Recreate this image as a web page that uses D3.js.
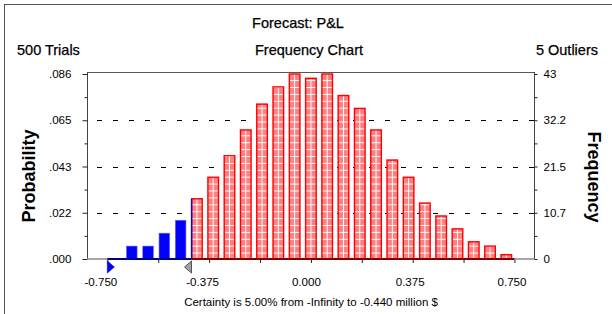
<!DOCTYPE html>
<html>
<head>
<meta charset="utf-8">
<script src="https://cdn.jsdelivr.net/npm/d3@7"></script>
<style>
	body { margin: 0; background: #fff; }
	text { font-family: 'Liberation Sans', Arial, sans-serif; fill: #000; }
	.head { font-size: 14.5px; stroke: #000; stroke-width: 0.25px; }
</style>
</head>
<body>
<div id="chart"></div>
<script>
// bin midpoints (million $) and trial counts per bin
const binMids = [-0.72, -0.66, -0.60, -0.54, -0.48, -0.42, -0.36, -0.30, -0.24, -0.18, -0.12, -0.06, 0.00,
	0.06, 0.12, 0.18, 0.24, 0.30, 0.36, 0.42, 0.48, 0.54, 0.60, 0.66, 0.72];
const counts = [0, 3, 3, 6, 9, 14, 19, 24, 30, 36, 40, 43, 42, 43, 38, 35, 30, 23, 19, 13, 10, 7, 4, 3, 1];
const binWidth = 0.06;

const freqTicks = [0, 10.75, 21.5, 32.25, 43];
const freqLabels = ['0', '10.7', '21.5', '32.2', '43'];
const probLabels = ['.000', '.022', '.043', '.065', '.086'];
const xTicks = [-0.75, -0.5625, -0.375, -0.1875, 0, 0.1875, 0.375, 0.5625, 0.75];
const xLabels = ['-0.750', '', '-0.375', '', '0.000', '', '0.375', '', '0.750'];

const certLow = -0.75;
const certHigh = -0.44;

const w = 612;
const h = 314;
const plotL = 87, plotR = 534, plotT = 72, plotB = 259;

const svg = d3.select('#chart').append('svg')
	.attr('width', w)
	.attr('height', h);

// outer frame
svg.append('rect')
	.attr('x', 4.5).attr('y', 4.5)
	.attr('width', 700).attr('height', 400)
	.attr('fill', 'none')
	.attr('stroke', '#555')
	.attr('stroke-width', 1);

const x = d3.scaleLinear().domain([-0.825, 0.822]).range([plotL, plotR]);
const y = d3.scaleLinear().domain([0, 43]).range([plotB, 74]);

const step = x(binWidth) - x(0);
const barW = step * 0.65;

// grid pattern for the red bars
const defs = svg.append('defs');
const pat = defs.append('pattern')
	.attr('id', 'grid')
	.attr('patternUnits', 'userSpaceOnUse')
	.attr('x', x(binMids[0]) - step / 2)
	.attr('y', plotB + 0.5)
	.attr('width', step)
	.attr('height', 6.9);
pat.append('rect')
	.attr('width', step).attr('height', 6.9)
	.attr('fill', '#ff8080');
pat.append('line')
	.attr('x1', step / 2).attr('x2', step / 2)
	.attr('y1', 0).attr('y2', 6.9)
	.attr('stroke', '#fff').attr('stroke-width', 1);
pat.append('line')
	.attr('x1', 0).attr('x2', step)
	.attr('y1', 0.5).attr('y2', 0.5)
	.attr('stroke', '#fff').attr('stroke-width', 1);

// dashed grid
svg.append('g')
	.selectAll('line')
	.data(freqTicks.slice(1, 4))
	.join('line')
	.attr('x1', plotL + 10).attr('x2', plotR)
	.attr('y1', d => Math.round(y(d)) + 0.5).attr('y2', d => Math.round(y(d)) + 0.5)
	.attr('stroke', '#000')
	.attr('stroke-width', 1)
	.attr('stroke-dasharray', '5,11');

// bars
const bins = binMids.map((m, i) => ({ mid: m, n: counts[i] })).filter(d => d.n > 0);
const isBlue = d => d.mid + binWidth / 2 <= certHigh;

svg.append('g')
	.selectAll('rect')
	.data(bins)
	.join('rect')
	.attr('x', d => x(d.mid) - barW / 2)
	.attr('y', d => y(d.n))
	.attr('width', barW)
	.attr('height', d => y(0) - y(d.n))
	.attr('fill', d => isBlue(d) ? '#0000ff' : 'url(#grid)')
	.attr('stroke', d => isBlue(d) ? '#6060ff' : '#ff0000')
	.attr('stroke-width', d => isBlue(d) ? 0.6 : 1.4);

// blue edge on the bin split by the certainty bound
const split = bins.filter(d => d.mid - binWidth / 2 < certHigh && d.mid + binWidth / 2 > certHigh);
svg.append('g')
	.selectAll('line')
	.data(split)
	.join('line')
	.attr('x1', d => x(d.mid) - barW / 2).attr('x2', d => x(d.mid) - barW / 2)
	.attr('y1', d => y(d.n)).attr('y2', plotB)
	.attr('stroke', '#0000ff')
	.attr('stroke-width', 1.4);

// plot frame
svg.append('line')
	.attr('x1', plotL).attr('x2', plotR)
	.attr('y1', plotT + 0.5).attr('y2', plotT + 0.5)
	.attr('stroke', '#555');
svg.append('line')
	.attr('x1', plotL + 0.5).attr('x2', plotL + 0.5)
	.attr('y1', plotT).attr('y2', plotB)
	.attr('stroke', '#444');
svg.append('line')
	.attr('x1', plotR + 0.5).attr('x2', plotR + 0.5)
	.attr('y1', plotT).attr('y2', plotB)
	.attr('stroke', '#444');

// left axis (probability)
const minor = freqTicks.slice(1).map((d, i) => (d + freqTicks[i]) / 2);
const yLeft = svg.append('g')
	.attr('transform', `translate(${plotL + 0.5},0)`)
	.call(d3.axisLeft(y).tickValues(freqTicks).tickSize(5).tickPadding(11)
		.tickFormat((d, i) => probLabels[i]));
yLeft.select('.domain').remove();
yLeft.selectAll('text').style('font-size', '11.6px');
yLeft.selectAll('line').attr('stroke', '#222');
svg.append('g')
	.attr('transform', `translate(${plotL + 0.5},0)`)
	.call(d3.axisLeft(y).tickValues(minor).tickSize(3).tickFormat(''))
	.call(g => g.select('.domain').remove())
	.call(g => g.selectAll('line').attr('stroke', '#222'));

// right axis (frequency)
const yRight = svg.append('g')
	.attr('transform', `translate(${plotR + 0.5},0)`)
	.call(d3.axisRight(y).tickValues(freqTicks.concat(minor)).tickSize(3).tickPadding(6)
		.tickFormat(d => {
			const i = freqTicks.indexOf(d);
			return i < 0 ? '' : freqLabels[i];
		}));
yRight.select('.domain').remove();
yRight.selectAll('text').style('font-size', '11.6px');
yRight.selectAll('line').attr('stroke', '#222');

// bottom axis line, coloured over the certainty range
svg.append('line')
	.attr('x1', plotL).attr('x2', plotR)
	.attr('y1', plotB).attr('y2', plotB)
	.attr('stroke', '#888').attr('stroke-width', 1.4);
svg.append('line')
	.attr('x1', x(certHigh)).attr('x2', x(0.75))
	.attr('y1', plotB).attr('y2', plotB)
	.attr('stroke', '#800000').attr('stroke-width', 2);
svg.append('line')
	.attr('x1', x(certLow)).attr('x2', x(certHigh))
	.attr('y1', plotB).attr('y2', plotB)
	.attr('stroke', '#000080').attr('stroke-width', 2);

const xAxis = svg.append('g')
	.attr('transform', `translate(0,${plotB + 1})`)
	.call(d3.axisBottom(x).tickValues(xTicks).tickSize(3).tickPadding(15)
		.tickFormat((d, i) => xLabels[i]));
xAxis.select('.domain').remove();
xAxis.selectAll('line').attr('stroke', '#222');
xAxis.selectAll('text')
	.style('font-size', '11.6px')
	.attr('dx', d => d < 0 ? -7 : d === 0 ? -5 : -3);

// certainty grabbers
svg.append('path')
	.attr('d', `M${x(certLow)},${plotB + 2}L${x(certLow)},${plotB + 14}L${x(certLow) + 7},${plotB + 8}Z`)
	.attr('fill', '#0000ff')
	.attr('stroke', '#000080')
	.attr('stroke-width', 0.6);
svg.append('path')
	.attr('d', `M${x(certHigh)},${plotB + 2}L${x(certHigh)},${plotB + 14}L${x(certHigh) - 7},${plotB + 8}Z`)
	.attr('fill', '#a0a0a0')
	.attr('stroke', '#333')
	.attr('stroke-width', 0.8);

// titles
svg.append('text')
	.attr('class', 'head')
	.attr('x', 298).attr('y', 28)
	.attr('text-anchor', 'middle')
	.text('Forecast: P&L');
svg.append('text')
	.attr('class', 'head')
	.attr('x', 17).attr('y', 55)
	.text('500 Trials');
svg.append('text')
	.attr('class', 'head')
	.attr('x', 309).attr('y', 55)
	.attr('text-anchor', 'middle')
	.text('Frequency Chart');
svg.append('text')
	.attr('class', 'head')
	.attr('x', 598).attr('y', 55)
	.attr('text-anchor', 'end')
	.text('5 Outliers');

svg.append('text')
	.attr('transform', 'translate(35,176) rotate(-90)')
	.attr('text-anchor', 'middle')
	.style('font-size', '18px')
	.style('font-weight', 'bold')
	.text('Probability');
svg.append('text')
	.attr('transform', 'translate(588,177) rotate(90)')
	.attr('text-anchor', 'middle')
	.style('font-size', '18px')
	.style('font-weight', 'bold')
	.text('Frequency');

svg.append('text')
	.attr('x', 311).attr('y', 306)
	.attr('text-anchor', 'middle')
	.style('font-size', '11.5px')
	.text('Certainty is 5.00% from -Infinity to -0.440 million $');
</script>
</body>
</html>
